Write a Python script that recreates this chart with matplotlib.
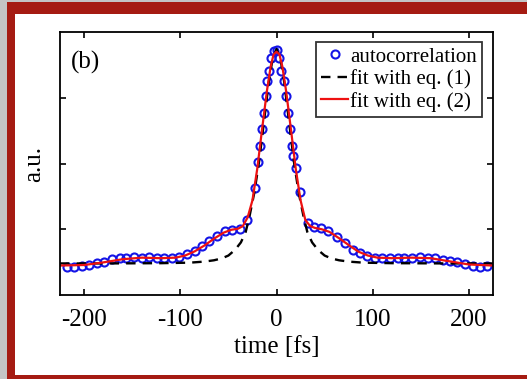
import matplotlib
matplotlib.use("Agg")
from matplotlib import pyplot as plt
from matplotlib.patches import Rectangle

# measured autocorrelation (circles)
auto_t = [-218, -210, -202, -195, -187, -179, -171, -163, -156, -148,
          -140, -132, -124, -117, -109, -101, -93, -85, -77, -70,
          -62, -54, -46, -38, -31, -22.5, -19.5, -17, -15, -13,
          -11, -9.5, -8, -6, -3, 0, 3, 5, 7.5, 10,
          12, 14, 16, 17.5, 20, 24, 33, 39, 46, 54,
          63, 71, 79, 87, 94, 102, 110, 118, 126, 133,
          141, 149, 157, 165, 173, 180, 188, 196, 204, 211.5, 219]
auto_y = [0.107, 0.107, 0.111, 0.113, 0.120, 0.126, 0.135, 0.139, 0.142, 0.145,
          0.142, 0.145, 0.142, 0.140, 0.142, 0.145, 0.155, 0.168, 0.186, 0.206,
          0.226, 0.244, 0.249, 0.252, 0.285, 0.405, 0.504, 0.568, 0.630, 0.691,
          0.755, 0.813, 0.853, 0.901, 0.926, 0.933, 0.901, 0.853, 0.813, 0.755,
          0.691, 0.630, 0.568, 0.530, 0.482, 0.390, 0.274, 0.259, 0.253, 0.244,
          0.221, 0.196, 0.173, 0.158, 0.147, 0.142, 0.139, 0.141, 0.142, 0.142,
          0.142, 0.145, 0.142, 0.139, 0.132, 0.130, 0.126, 0.116, 0.111, 0.107, 0.111]

# fit with eq. (1), dashed black
fit1_t = [-225, -180, -120, -90, -75, -65, -57, -50, -43, -37, -32, -28,
          -23, -18, -13, -8, -4, 0, 4, 8, 13, 18, 23, 28, 32, 37, 43,
          50, 57, 65, 75, 90, 120, 180, 225]
fit1_y = [0.120, 0.120, 0.121, 0.123, 0.127, 0.132, 0.139, 0.150, 0.172, 0.200, 0.240, 0.300,
          0.390, 0.510, 0.660, 0.810, 0.900, 0.935, 0.900, 0.810, 0.660, 0.510, 0.390, 0.300,
          0.240, 0.200, 0.172, 0.150, 0.139, 0.132, 0.127, 0.123, 0.121, 0.120, 0.120]

# fit with eq. (2), red
fit2_t = [-225, -200, -180, -160, -140, -120, -105, -95, -85, -75, -65, -55,
          -47, -40, -35, -30, -25, -20, -15, -10, -6, -3, 0, 3, 6, 10, 15,
          20, 25, 30, 35, 40, 47, 55, 65, 75, 85, 95, 105, 120, 140, 160,
          180, 200, 225]
fit2_y = [0.112, 0.114, 0.124, 0.136, 0.142, 0.140, 0.142, 0.150, 0.166, 0.188, 0.214, 0.237,
          0.248, 0.252, 0.262, 0.295, 0.360, 0.480, 0.630, 0.775, 0.870, 0.915, 0.925, 0.915,
          0.870, 0.775, 0.630, 0.480, 0.360, 0.285, 0.262, 0.255, 0.250, 0.240, 0.216, 0.190,
          0.165, 0.150, 0.142, 0.140, 0.142, 0.140, 0.128, 0.116, 0.112]

xticks = [-200, -100, 0, 100, 200]

plt.rcParams['font.family'] = ['Liberation Serif', 'DejaVu Serif']
plt.rcParams['axes.unicode_minus'] = False

W, H = 527, 379
fig = plt.figure(figsize=(W / 100, H / 100), dpi=100)
fig.patch.set_facecolor('#c4c4c4')

# slide-style frame: dark red band, white page inside
fig.add_artist(Rectangle((7 / W, 0), 1, 1 - 2 / H, transform=fig.transFigure,
                         facecolor='#a51b12', edgecolor='none', zorder=0))
fig.add_artist(Rectangle((15 / W, 4 / H), 1, (H - 14 - 4) / H, transform=fig.transFigure,
                         facecolor='white', edgecolor='none', zorder=0))

ax = fig.add_axes([60 / W, 1 - 295 / H, 433 / W, 263 / H])

ax.plot(auto_t, auto_y, 'o', markerfacecolor='none', markeredgecolor='#1414e6',
        markersize=5.8, markeredgewidth=1.5, label='autocorrelation')
ax.plot(fit1_t, fit1_y, '--', color='black', linewidth=1.7, dashes=(4, 3),
        label='fit with eq. (1)')
ax.plot(fit2_t, fit2_y, '-', color='#ee1111', linewidth=1.6, label='fit with eq. (2)')

ax.set_xlim(-225, 225)
ax.set_ylim(0, 1)
ax.set_xticks(xticks)
ax.set_yticks([0.25, 0.5, 0.75])
ax.set_yticklabels([])
ax.tick_params(direction='in', top=True, right=True, length=4, width=1.2,
               labelsize=18, pad=10)
for s in ax.spines.values():
    s.set_linewidth(1.3)

ax.set_xlabel('time [fs]', fontsize=18, labelpad=4)
ax.set_ylabel('a.u.', fontsize=18, labelpad=1)
ax.text(0.025, 0.93, '(b)', transform=ax.transAxes, fontsize=18, va='top', ha='left')

leg = ax.legend(loc='upper right', bbox_to_anchor=(0.975, 0.962), borderaxespad=0,
                fontsize=15, frameon=True, fancybox=False, handlelength=1.3,
                handletextpad=0.1, borderpad=0.25, labelspacing=0.12)
leg.get_frame().set_edgecolor('black')
leg.get_frame().set_linewidth(1.3)

fig.savefig('out.png', dpi=100, facecolor=fig.get_facecolor())
